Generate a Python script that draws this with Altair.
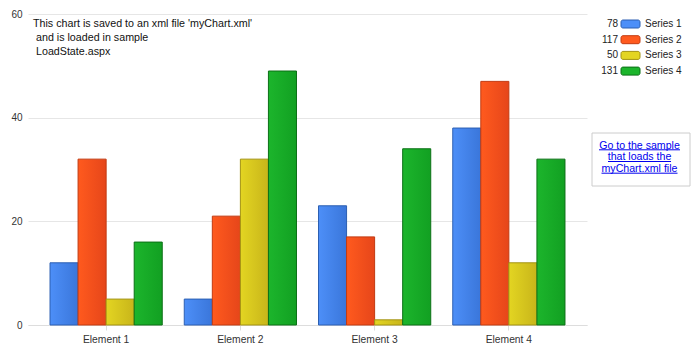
import altair as alt
import pandas as pd

# ---------------- data ----------------
categories = ["Element 1", "Element 2", "Element 3", "Element 4"]
series_names = ["Series 1", "Series 2", "Series 3", "Series 4"]
series1 = [12, 5, 23, 38]
series2 = [32, 21, 17, 47]
series3 = [5, 32, 1, 12]
series4 = [16, 49, 34, 32]
y_ticks = [0, 20, 40, 60]
note_lines = ["This chart is saved to an xml file 'myChart.xml'",
              "and is loaded in sample",
              "LoadState.aspx"]
link_lines = ["Go to the sample", "that loads the", "myChart.xml file"]

# ---------------- styles ----------------
light = ["#4d8ff8", "#ff5a1e", "#e3d522", "#1cb52c"]
dark = ["#3a76da", "#e6461a", "#c8b51a", "#12a022"]
strokes = ["#2c5fb2", "#c23a10", "#a39313", "#0c7016"]
FONT = "Liberation Sans"

all_values = [series1, series2, series3, series4]
rows = []
for s, vals in zip(series_names, all_values):
    for c, v in zip(categories, vals):
        rows.append({"category": c, "series": s, "value": v})
df = pd.DataFrame(rows)

W, H = 559, 311

x_enc = alt.X("category:N", sort=categories, title=None,
              scale=alt.Scale(paddingInner=0.164, paddingOuter=0.164),
              axis=alt.Axis(labelAngle=0, domainColor="#dddddd", tickColor="#dddddd",
                            tickSize=5, labelPadding=4, labelFontSize=10.3,
                            labelColor="#333333", labelFont=FONT, grid=False))
xo_enc = alt.XOffset("series:N", scale=alt.Scale(domain=series_names, paddingInner=0, paddingOuter=0))
y_enc = alt.Y("value:Q", title=None, scale=alt.Scale(domain=[0, 60], nice=False),
              axis=alt.Axis(values=y_ticks, domain=False, ticks=False, labelPadding=6,
                            gridColor="#e6e6e6", labelFontSize=10, labelColor="#333333",
                            labelFont=FONT))

layers = []
for i, s in enumerate(series_names):
    grad = alt.Gradient(gradient="linear", x1=0, x2=1, y1=0, y2=0,
                        stops=[alt.GradientStop(color=light[i], offset=0),
                               alt.GradientStop(color=dark[i], offset=1)])
    layers.append(
        alt.Chart(df).transform_filter(alt.datum.series == s)
        .mark_bar(fill=grad, stroke=strokes[i], strokeWidth=1)
        .encode(x=x_enc, xOffset=xo_enc, y=y_enc)
    )

# ---------------- custom legend ----------------
leg = pd.DataFrame({"series": series_names, "total": [sum(v) for v in all_values],
                    "idx": list(range(4))})
leg_base = alt.Chart(leg).transform_calculate(
    py="10 + datum.idx * 15.7", py0="10 + datum.idx * 15.7 - 4", py1="10 + datum.idx * 15.7 + 4")
leg_rect = leg_base.mark_rect(cornerRadius=2, strokeWidth=1).encode(
    x=alt.value(593), x2=alt.value(612),
    y=alt.Y("py0:Q", scale=None, axis=None), y2="py1:Q",
    color=alt.Color("series:N", scale=alt.Scale(domain=series_names, range=light), legend=None),
    stroke=alt.Stroke("series:N", scale=alt.Scale(domain=series_names, range=strokes), legend=None))
leg_total = leg_base.mark_text(align="right", baseline="middle", fontSize=10, font=FONT,
                               color="#222222").encode(
    x=alt.value(590), y=alt.Y("py:Q", scale=None, axis=None), text="total:Q")
leg_label = leg_base.mark_text(align="left", baseline="middle", fontSize=10, font=FONT,
                               color="#222222").encode(
    x=alt.value(617), y=alt.Y("py:Q", scale=None, axis=None), text="series:N")

# ---------------- annotation ----------------
note_df = pd.DataFrame({"line": note_lines, "idx": list(range(len(note_lines)))})
note = alt.Chart(note_df).transform_calculate(
    nx="datum.idx > 0 ? 8 : 5", ny="13 + datum.idx * 14"
).mark_text(align="left", baseline="alphabetic", fontSize=10.7, font=FONT,
            color="#111111").encode(
    x=alt.X("nx:Q", scale=None, axis=None), y=alt.Y("ny:Q", scale=None, axis=None),
    text="line:N")

one = pd.DataFrame({"k": [0]})
box = alt.Chart(one).mark_rect(fill="white", stroke="#cccccc", strokeWidth=1).encode(
    x=alt.value(564), x2=alt.value(662), y=alt.value(119), y2=alt.value(172))
link = alt.Chart(one).mark_text(text=link_lines, align="center", baseline="alphabetic",
                                lineHeight=11.7, fontSize=10.6, font=FONT,
                                color="#0000ee").encode(x=alt.value(611.5), y=alt.value(134.5))
ul = pd.DataFrame({"idx": [0, 1, 2], "hw": [40.5, 31.5, 38]})
underline = alt.Chart(ul).transform_calculate(
    x0="611.5 - datum.hw", x1="611.5 + datum.hw", yy="135.8 + datum.idx * 11.7"
).mark_rule(color="#0000ee", strokeWidth=1).encode(
    x=alt.X("x0:Q", scale=None, axis=None), x2="x1:Q",
    y=alt.Y("yy:Q", scale=None, axis=None))

chart = alt.layer(*layers, leg_rect, leg_total, leg_label, note, box, link, underline).properties(
    width=W, height=H,
    padding={"left": 28, "top": 14, "right": 110, "bottom": 30},
    autosize=alt.AutoSizeParams(type="none"),
    background="white",
).configure_view(stroke=None)

chart.save("out.html", embed_options={"renderer": "svg", "actions": False})
